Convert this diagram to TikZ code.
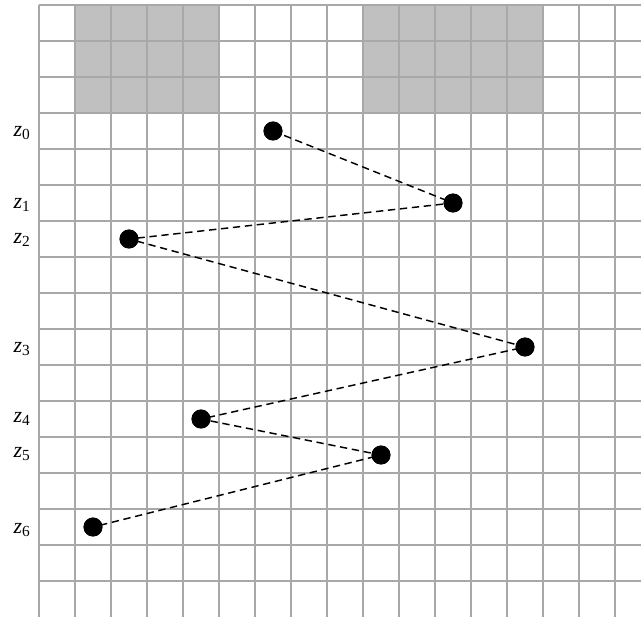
\documentclass[tikz,border=0pt]{standalone}
\usepackage{fontspec}
\setmainfont{Liberation Serif}[ItalicFont={Liberation Serif Italic}]

\tikzset{every picture/.style={line width=0.75pt}}
\tikzset{
  gridline/.style={color={rgb, 255:red, 168; green, 168; blue, 168 }, line width=0.85pt},
  block/.style={fill={rgb, 255:red, 192; green, 192; blue, 192 }},
  pt/.style={circle, fill=black, inner sep=0pt, minimum size=14.2pt},
  hop/.style={dash pattern=on 5.5pt off 3.5pt, line width=1.1pt},
  zlabel/.style={anchor=base east, inner sep=0pt, font=\fontsize{16.5}{18}\selectfont}
}
\newcommand{\zsub}[1]{\textit{z}\textsubscript{#1}}

\begin{document}
\begin{tikzpicture}[x=0.75pt,y=0.75pt,yscale=-1,xscale=1]
    \useasboundingbox (0,0) rectangle (641,617);

    %Shapes: Rectangle
    \fill [block] (75,5) rectangle (219,113);
    \fill [block] (363,5) rectangle (543,113);

    %Grid
    \foreach \x in {39,75,...,615}
        \draw [gridline] (\x,5) -- (\x,617);
    \foreach \y in {5,41,...,581}
        \draw [gridline] (39,\y) -- (641,\y);

    % Points
    \node [pt] (z0) at (273,131) {};
    \node [pt] (z1) at (453,203) {};
    \node [pt] (z2) at (129,239) {};
    \node [pt] (z3) at (525,347) {};
    \node [pt] (z4) at (201,419) {};
    \node [pt] (z5) at (381,455) {};
    \node [pt] (z6) at (93,527) {};

    %Straight Lines
    \draw [hop] (z0.center) -- (z1.center) -- (z2.center) -- (z3.center) -- (z4.center) -- (z5.center) -- (z6.center);
    \foreach \n in {0,...,6}
        \fill (z\n) circle (7.1pt);

    % Text Node
    \node [zlabel] (l0) at (31,136) {\zsub{0}};
    % Text Node
    \node [zlabel] (l1) at (31,208) {\zsub{1}};
    % Text Node
    \node [zlabel] (l2) at (31,243) {\zsub{2}};
    % Text Node
    \node [zlabel] (l3) at (31,352) {\zsub{3}};
    % Text Node
    \node [zlabel] (l4) at (31,422) {\zsub{4}};
    % Text Node
    \node [zlabel] (l5) at (31,457) {\zsub{5}};
    % Text Node
    \node [zlabel] (l6) at (31,533) {\zsub{6}};
\end{tikzpicture}
\end{document}
